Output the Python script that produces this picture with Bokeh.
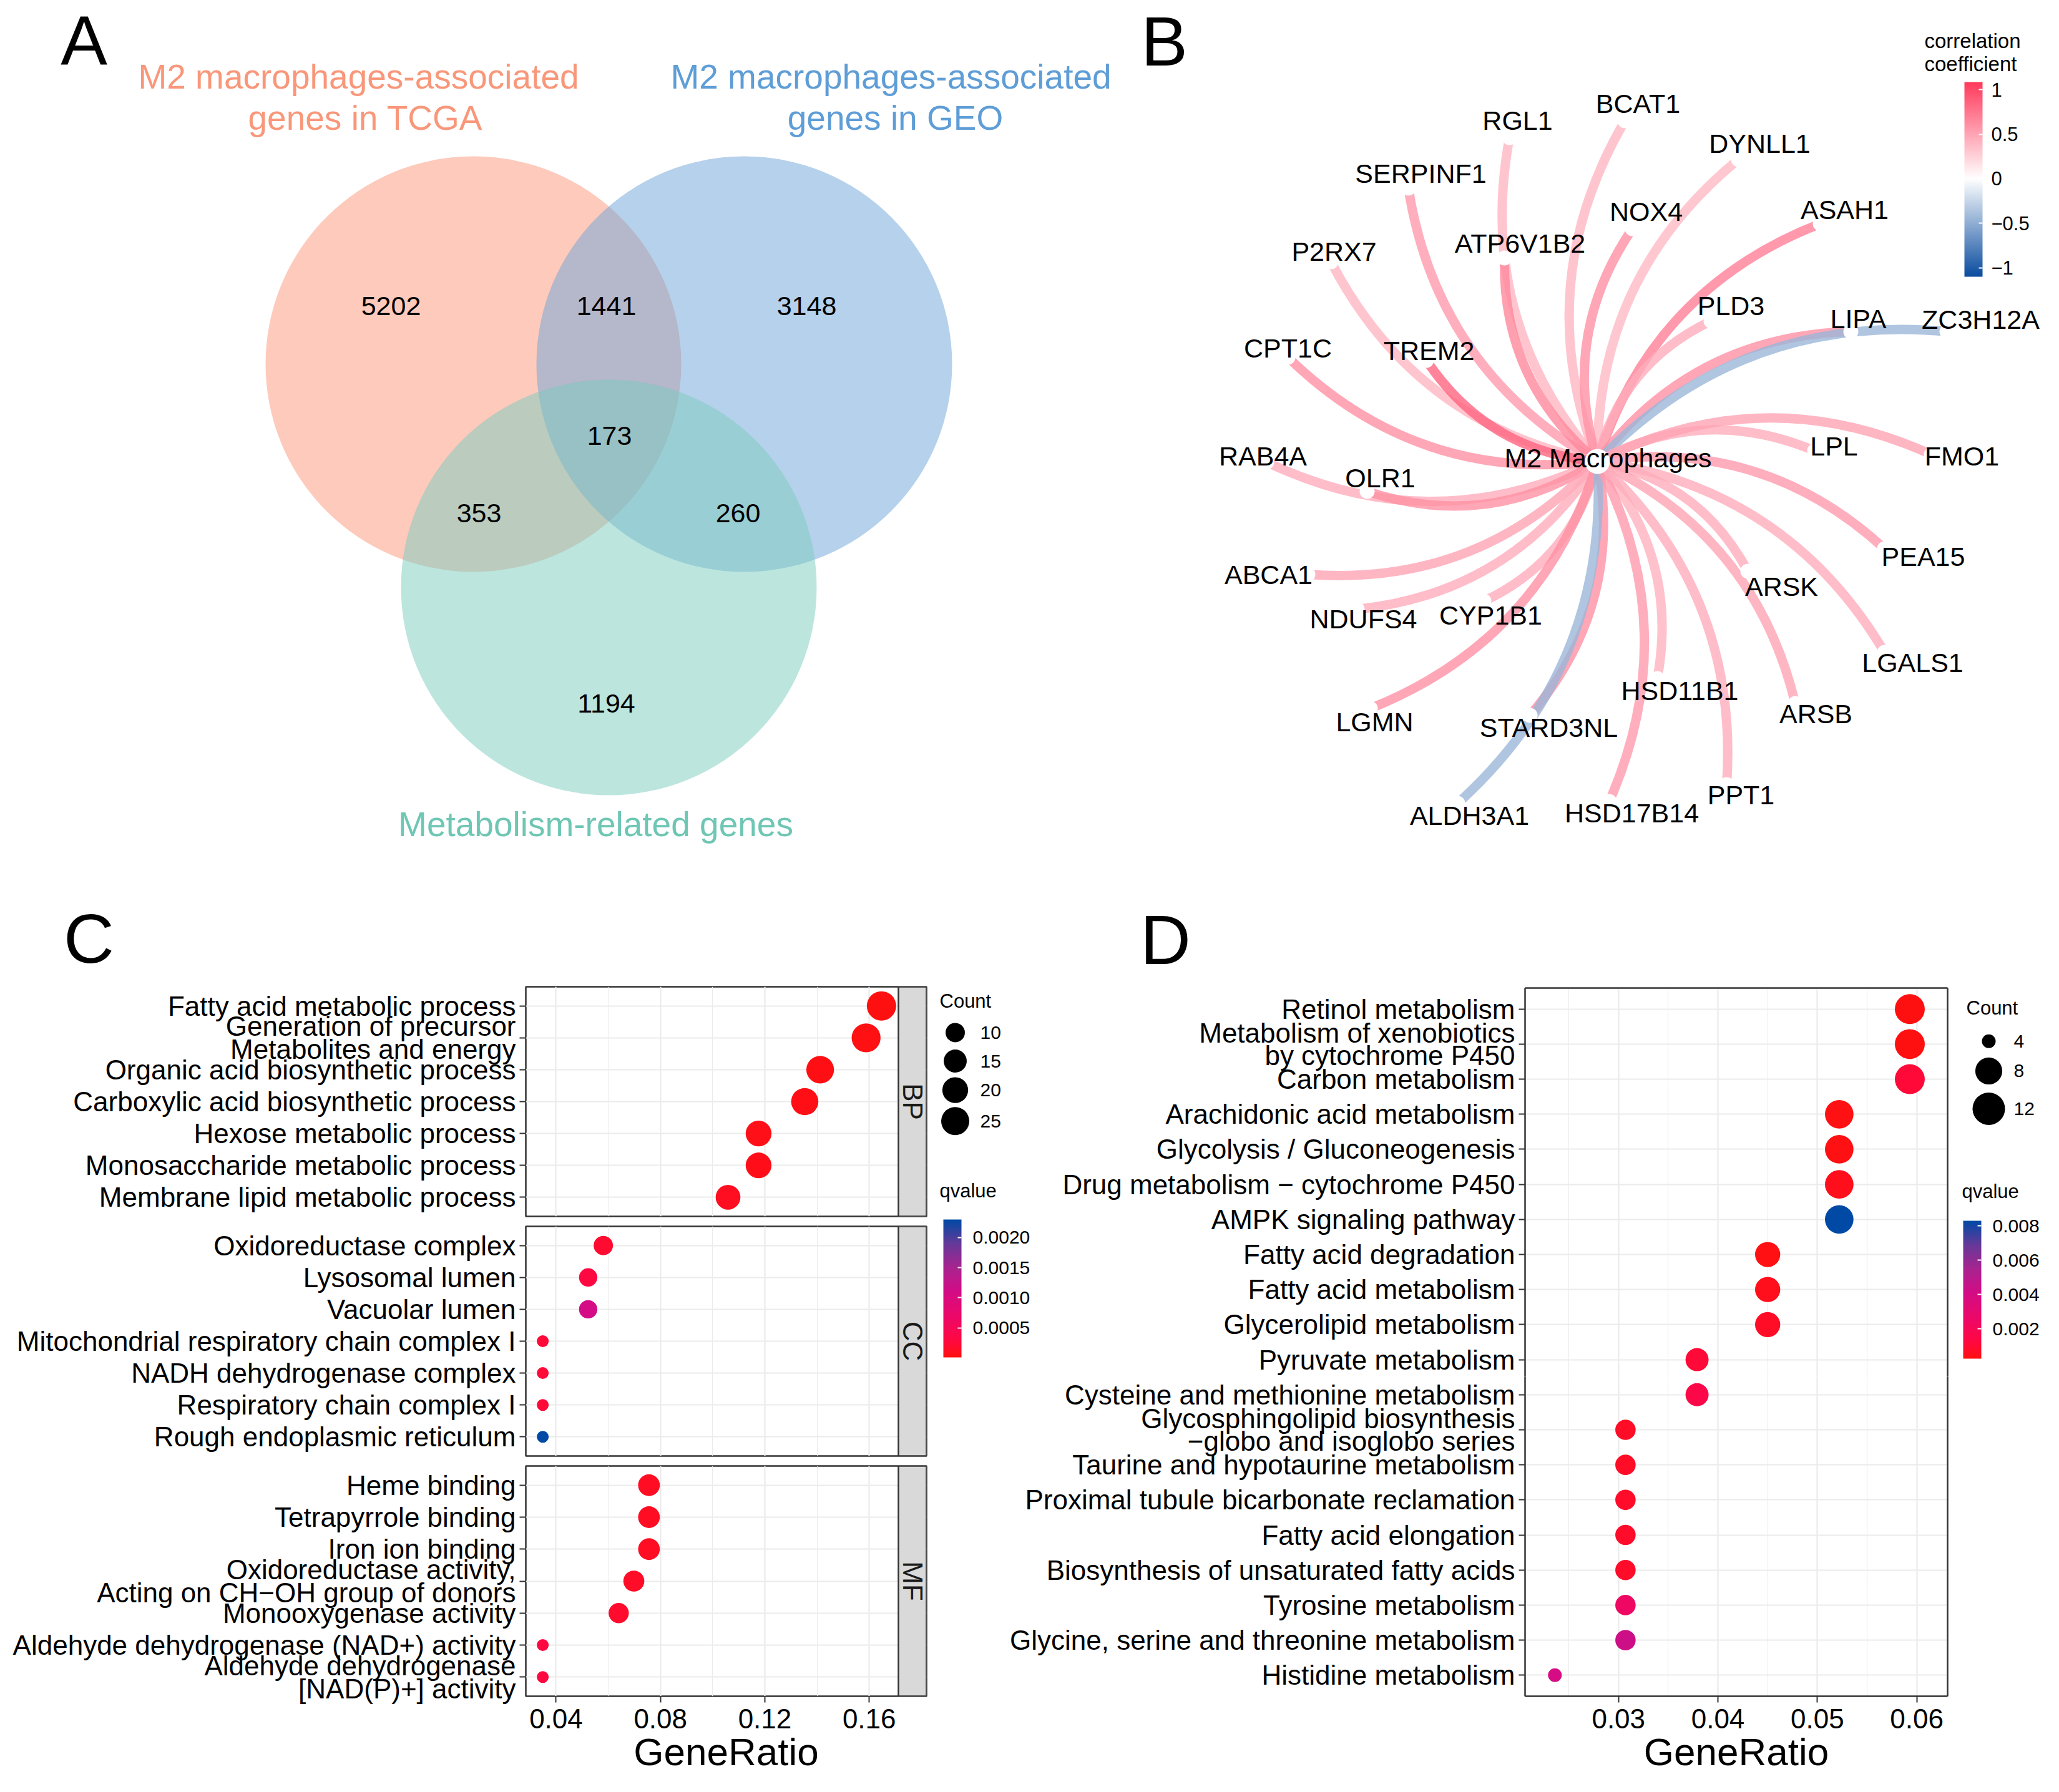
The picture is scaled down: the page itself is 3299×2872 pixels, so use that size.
import math
from bokeh.plotting import figure
from bokeh.layouts import row, column
from bokeh.models import (Range1d, ColumnDataSource, LinearColorMapper, ColorBar,
                          FixedTicker, LinearAxis, PrintfTickFormatter)
from bokeh.transform import transform
from bokeh.core.properties import value
from bokeh.embed import file_html
from bokeh.resources import INLINE

FONT = "Liberation Sans"
BORDER = "#333333"
GRID = "#EBEBEB"

# ---------------- Panel A : Venn data ----------------
venn_set_lines = [["M2 macrophages-associated", "genes in TCGA"],
                  ["M2 macrophages-associated", "genes in GEO"],
                  ["Metabolism-related genes"]]
venn_region_names = ["TCGA only", "TCGA&GEO", "GEO only", "TCGA&GEO&Met",
                     "TCGA&Met", "GEO&Met", "Met only"]
venn_region_counts = [5202, 1441, 3148, 173, 353, 260, 1194]

# ---------------- Panel B : network data ----------------
hub_name = "M2 Macrophages"
genes = ["RGL1", "BCAT1", "DYNLL1", "SERPINF1", "NOX4", "ASAH1", "ATP6V1B2", "P2RX7",
         "PLD3", "LIPA", "ZC3H12A", "CPT1C", "TREM2", "RAB4A", "OLR1", "LPL", "FMO1",
         "PEA15", "ARSK", "ABCA1", "NDUFS4", "CYP1B1", "LGALS1", "HSD11B1", "ARSB",
         "LGMN", "STARD3NL", "ALDH3A1", "HSD17B14", "PPT1"]
corr = [0.40, 0.40, 0.38, 0.55, 0.60, 0.70, 0.65, 0.40,
        0.45, 0.60, -0.45, 0.60, 0.85, 0.45, 0.60, 0.45, 0.50,
        0.55, 0.45, 0.50, 0.45, 0.45, 0.45, 0.42, 0.50,
        0.60, 0.60, -0.45, 0.55, 0.45]

# ---------------- Panel C : GO enrichment ----------------
bp_terms = ["Fatty acid metabolic process", "Generation of precursor\nMetabolites and energy",
            "Organic acid biosynthetic process", "Carboxylic acid biosynthetic process",
            "Hexose metabolic process", "Monosaccharide metabolic process",
            "Membrane lipid metabolic process"]
bp_ratio = [0.1647, 0.1588, 0.1412, 0.1353, 0.1176, 0.1176, 0.1059]
bp_count = [28, 27, 24, 23, 20, 20, 18]
bp_q = [0.00001, 0.00002, 0.00003, 0.00004, 0.00006, 0.00007, 0.00010]

cc_terms = ["Oxidoreductase complex", "Lysosomal lumen", "Vacuolar lumen",
            "Mitochondrial respiratory chain complex I", "NADH dehydrogenase complex",
            "Respiratory chain complex I", "Rough endoplasmic reticulum"]
cc_ratio = [0.0581, 0.0523, 0.0523, 0.0349, 0.0349, 0.0349, 0.0349]
cc_count = [10, 9, 9, 6, 6, 6, 6]
cc_q = [0.00020, 0.00030, 0.00110, 0.00025, 0.00025, 0.00025, 0.00230]

mf_terms = ["Heme binding", "Tetrapyrrole binding", "Iron ion binding",
            "Oxidoreductase activity,\nActing on CH\u2212OH group of donors",
            "Monooxygenase activity", "Aldehyde dehydrogenase (NAD+) activity",
            "Aldehyde dehydrogenase\n[NAD(P)+] activity"]
mf_ratio = [0.0756, 0.0756, 0.0756, 0.0698, 0.0640, 0.0349, 0.0349]
mf_count = [13, 13, 13, 12, 11, 6, 6]
mf_q = [0.00012, 0.00012, 0.00012, 0.00015, 0.00018, 0.00030, 0.00030]

go_facets = ["BP", "CC", "MF"]
go_ticks = [0.04, 0.08, 0.12, 0.16]
go_minor = [0.06, 0.10, 0.14]
go_count_breaks = [10, 15, 20, 25]
go_q_ticks = [0.0005, 0.0010, 0.0015, 0.0020]

# ---------------- Panel D : KEGG enrichment ----------------
kegg_terms = ["Retinol metabolism", "Metabolism of xenobiotics\nby cytochrome P450",
              "Carbon metabolism", "Arachidonic acid metabolism",
              "Glycolysis / Gluconeogenesis", "Drug metabolism \u2212 cytochrome P450",
              "AMPK signaling pathway", "Fatty acid degradation", "Fatty acid metabolism",
              "Glycerolipid metabolism", "Pyruvate metabolism",
              "Cysteine and methionine metabolism",
              "Glycosphingolipid biosynthesis\n\u2212globo and isoglobo series",
              "Taurine and hypotaurine metabolism", "Proximal tubule bicarbonate reclamation",
              "Fatty acid elongation", "Biosynthesis of unsaturated fatty acids",
              "Tyrosine metabolism", "Glycine, serine and threonine metabolism",
              "Histidine metabolism"]
kegg_ratio = [0.0593, 0.0593, 0.0593, 0.0522, 0.0522, 0.0522, 0.0522, 0.0450, 0.0450, 0.0450,
              0.0379, 0.0379, 0.0307, 0.0307, 0.0307, 0.0307, 0.0307, 0.0307, 0.0307, 0.0236]
kegg_count = [10, 10, 10, 9, 9, 9, 9, 7, 7, 7, 6, 6, 5, 5, 5, 5, 5, 5, 5, 4]
kegg_q = [0.00026, 0.00026, 0.0011, 0.0003, 0.0003, 0.0005, 0.0083, 0.0003, 0.0005, 0.0007,
          0.0011, 0.0015, 0.0007, 0.0007, 0.0008, 0.0008, 0.0008, 0.0024, 0.0043, 0.0040]
kegg_ticks = [0.03, 0.04, 0.05, 0.06]
kegg_minor = [0.025, 0.035, 0.045, 0.055]
kegg_count_breaks = [4, 8, 12]
kegg_q_ticks = [0.002, 0.004, 0.006, 0.008]

corr_ticks = [-1, -0.5, 0, 0.5, 1]
panel_letters = ["A", "B", "C", "D"]

# ================= layout constants (picture pixels) =================
W_TOTAL, H_TOTAL = 3283, 2856
TOP_H = 1578
SPLIT_X = 1800

venn_cx = [758, 1192, 975]
venn_cy = [583, 583, 941]
venn_r = 333
venn_fill = ["#FB9579", "#6DA3D7", "#79CBBD"]
venn_text_col = ["#F8977A", "#5E9DD6", "#6EC6B4"]
venn_region_x = [626, 971, 1292, 976, 767, 1182, 971]
venn_region_y = [490, 490, 490, 698, 822, 822, 1127]
venn_label_x = [[574, 585], [1427, 1434], [954]]
venn_label_y = [[122, 188], [122, 188], [1320]]

letter_x = [134, 1865, 142, 1867]
letter_y = [64, 66, 1504, 1506]

hub_x, hub_y = 2559, 739
node_x = [2418, 2603, 2785, 2256, 2615, 2916, 2410, 2132, 2741, 2965, 3119, 2063, 2285, 2029,
          2190, 2907, 3094, 3019, 2800, 2095, 2174, 2377, 3019, 2655, 2876, 2195, 2451, 2335,
          2578, 2766]
node_y = [220, 193, 255, 301, 366, 358, 413, 419, 514, 531, 531, 572, 577, 740, 787, 722, 728,
          879, 915, 920, 976, 963, 1045, 1087, 1127, 1135, 1146, 1287, 1284, 1257]
label_x = [2431, 2624, 2819, 2276, 2637, 2955, 2435, 2137, 2773, 2977, 3173, 2063, 2289, 2023,
           2211, 2938, 3143, 3081, 2854, 2032, 2184, 2388, 3064, 2691, 2909, 2202, 2481, 2354,
           2614, 2789]
label_y = [192, 165, 229, 277, 338, 335, 389, 402, 489, 510, 511, 557, 561, 730, 765, 714, 730,
           891, 939, 920, 991, 985, 1061, 1106, 1143, 1156, 1165, 1306, 1302, 1273]


def hex2rgb(h):
    h = h.lstrip("#")
    return tuple(int(h[i:i + 2], 16) for i in (0, 2, 4))


def rgb2hex(c):
    return "#%02x%02x%02x" % tuple(int(round(v)) for v in c)


def gradient(stops, n=256):
    pal = []
    for i in range(n):
        t = i / (n - 1)
        for j in range(len(stops) - 1):
            p0, c0 = stops[j]
            p1, c1 = stops[j + 1]
            if t <= p1 or j == len(stops) - 2:
                f = (t - p0) / (p1 - p0)
                f = min(max(f, 0.0), 1.0)
                a, b = hex2rgb(c0), hex2rgb(c1)
                pal.append(rgb2hex([a[k] + (b[k] - a[k]) * f for k in range(3)]))
                break
    return pal


q_palette = gradient([(0.0, "#FF1010"), (0.12, "#FF0840"), (0.28, "#EE0866"),
                      (0.48, "#D30C86"), (0.65, "#A8248F"), (0.82, "#683898"),
                      (1.0, "#004AA5")])
corr_low, corr_high = -1.1, 1.085
zero_pos = -corr_low / (corr_high - corr_low)
corr_palette = gradient([(0.0, "#0A4C9F"), (zero_pos, "#FFFFFF"), (1.0, "#FF3A5C")])


def txt(p, xs, ys, texts, size, color="black", align="center", baseline="middle", angle=0.0):
    p.text(x=xs, y=ys, text=texts, text_font=value(FONT), text_font_size=size,
           text_color=color, text_align=align, text_baseline=baseline, angle=angle)


def canvas(x0, x1, y0, y1):
    p = figure(width=x1 - x0, height=y1 - y0, x_range=Range1d(x0, x1), y_range=Range1d(y1, y0),
               x_axis_type=None, y_axis_type=None, toolbar_location=None, output_backend="svg",
               min_border=0)
    p.outline_line_color = None
    p.background_fill_color = "white"
    p.border_fill_color = "white"
    return p


def size_scale(c, cmin, cmax, dmin, dmax):
    f = max((c - cmin) / (cmax - cmin), 0.0)
    return dmin + (dmax - dmin) * math.sqrt(f)


def c_size(c):
    return size_scale(c, 6, 28, 19, 47)


def d_size(c):
    return size_scale(c, 4, 12, 22, 52)


def q_colorbar(p, mapper, ticks, fmt, loc, height):
    cb = ColorBar(color_mapper=mapper, location=loc, width=29, height=height, padding=0,
                  margin=0, ticker=FixedTicker(ticks=ticks),
                  formatter=PrintfTickFormatter(format=fmt),
                  major_label_text_font=FONT, major_label_text_font_size="30px",
                  major_label_text_color="black", label_standoff=18,
                  major_tick_line_color="white", major_tick_line_width=2,
                  major_tick_in=6, major_tick_out=0, minor_tick_line_color=None,
                  bar_line_color=None, border_line_color=None, background_fill_alpha=0)
    p.add_layout(cb)


def style_label_axis(ax, ticks, labels):
    ax.ticker = FixedTicker(ticks=ticks)
    ax.major_label_overrides = {i: t for i, t in enumerate(labels)}
    ax.major_label_text_font = FONT
    ax.major_label_text_font_size = "44px"
    ax.major_label_text_color = "black"
    ax.major_label_text_line_height = 0.75
    ax.major_label_standoff = 6
    ax.major_tick_out = 10
    ax.major_tick_in = 0
    ax.major_tick_line_color = BORDER
    ax.major_tick_line_width = 2
    ax.minor_tick_line_color = None
    ax.minor_tick_out = 0
    ax.minor_tick_in = 0


def style_x_axis(ax, ticker):
    ax.ticker = ticker
    ax.major_label_text_font = FONT
    ax.major_label_text_font_size = "44px"
    ax.major_label_text_color = "black"
    ax.major_label_standoff = 10
    ax.major_tick_out = 10
    ax.major_tick_in = 0
    ax.major_tick_line_color = BORDER
    ax.major_tick_line_width = 2
    ax.minor_tick_line_color = None
    ax.minor_tick_out = 0
    ax.minor_tick_in = 0
    ax.axis_label = "GeneRatio"
    ax.axis_label_text_font = FONT
    ax.axis_label_text_font_size = "62px"
    ax.axis_label_text_font_style = "normal"
    ax.axis_label_text_color = "black"
    ax.axis_label_standoff = 0


def line_only_axis(ax):
    ax.ticker = FixedTicker(ticks=[])
    ax.major_label_text_font_size = "0px"
    ax.major_label_standoff = 0
    ax.major_tick_out = 0
    ax.major_tick_in = 0
    ax.minor_tick_out = 0
    ax.minor_tick_in = 0
    ax.major_tick_line_color = None
    ax.minor_tick_line_color = None
    ax.axis_line_color = BORDER
    ax.axis_line_width = 2.5


def style_grids(p, xticker, nrows):
    p.xgrid.ticker = xticker
    p.xgrid.grid_line_color = GRID
    p.xgrid.grid_line_width = 2.2
    p.xgrid.minor_grid_line_color = GRID
    p.xgrid.minor_grid_line_width = 1.1
    p.ygrid.ticker = FixedTicker(ticks=list(range(nrows)))
    p.ygrid.grid_line_color = GRID
    p.ygrid.grid_line_width = 2.2
    p.ygrid.minor_grid_line_color = None


# ================= Panel A =================
pA = canvas(0, SPLIT_X, 0, TOP_H)
pA.circle(x=venn_cx, y=venn_cy, radius=venn_r, fill_color=venn_fill, fill_alpha=0.5,
          line_color=None)
txt(pA, venn_region_x, venn_region_y, [str(c) for c in venn_region_counts], "43px")
for lines, lx, ly, col in zip(venn_set_lines, venn_label_x, venn_label_y, venn_text_col):
    txt(pA, lx, ly, lines, "55px", color=col)
txt(pA, [letter_x[0], letter_x[2]], [letter_y[0], letter_y[2]],
    [panel_letters[0], panel_letters[2]], "112px")

# ================= Panel B =================
pB = canvas(SPLIT_X, W_TOTAL, 0, TOP_H)
bend = 0.24
ex0, ey0, ecx, ecy = [], [], [], []
for nx, ny in zip(node_x, node_y):
    dx, dy = nx - hub_x, ny - hub_y
    ex0.append(hub_x)
    ey0.append(hub_y)
    ecx.append((hub_x + nx) / 2 + bend * dy)
    ecy.append((hub_y + ny) / 2 - bend * dx)
edge_src = ColumnDataSource(dict(x0=ex0, y0=ey0, x1=node_x, y1=node_y, cx=ecx, cy=ecy,
                                 corr=corr, gene=genes))
edge_mapper = LinearColorMapper(palette=corr_palette, low=corr_low, high=corr_high)
pB.quadratic(x0="x0", y0="y0", x1="x1", y1="y1", cx="cx", cy="cy", source=edge_src,
             line_color=transform("corr", edge_mapper), line_width=15, line_alpha=0.8)
pB.scatter(x=node_x, y=node_y, size=24, marker="circle", fill_color="white", line_color=None)
pB.scatter(x=[hub_x], y=[hub_y], size=40, marker="circle", fill_color="white", line_color=None)
txt(pB, label_x, label_y, genes, "43px")
txt(pB, [2576], [733], [hub_name], "43px")
cbB = ColorBar(color_mapper=edge_mapper, location=(3147 - SPLIT_X, TOP_H - 443), width=29,
               height=312, padding=0, margin=0, ticker=FixedTicker(ticks=corr_ticks),
               major_label_overrides={-1: "\u22121", -0.5: "\u22120.5", 0: "0", 0.5: "0.5", 1: "1"},
               major_label_text_font=FONT, major_label_text_font_size="31px",
               major_label_text_color="black", label_standoff=14,
               major_tick_line_color="white", major_tick_line_width=2, major_tick_in=6,
               major_tick_out=0, minor_tick_line_color=None, bar_line_color=None,
               border_line_color=None, background_fill_alpha=0)
pB.add_layout(cbB)
txt(pB, [3083, 3083], [65, 102], ["correlation", "coefficient"], "33px", align="left")
txt(pB, [letter_x[1], letter_x[3]], [letter_y[1], letter_y[3]],
    [panel_letters[1], panel_letters[3]], "112px")

# ================= Panel C =================
all_go_ratio = bp_ratio + cc_ratio + mf_ratio
all_go_q = bp_q + cc_q + mf_q
g_lo, g_hi = min(all_go_ratio), max(all_go_ratio)
g_pad = 0.05 * (g_hi - g_lo)
c_panel_lo, c_panel_hi = g_lo - g_pad, g_hi + g_pad
c_panel_px, c_strip_px = 597, 45
c_strip_w = c_strip_px * (c_panel_hi - c_panel_lo) / c_panel_px
c_xrange = Range1d(c_panel_lo, c_panel_hi + c_strip_w)
go_ticker = FixedTicker(ticks=go_ticks, minor_ticks=go_minor)
go_mapper = LinearColorMapper(palette=q_palette, low=min(all_go_q), high=max(all_go_q))
C_LEFT = 842
C_WIDTH = 1486


def go_facet(terms, ratio, count, q, strip, height, top, bottom, show_x):
    n = len(terms)
    p = figure(width=C_WIDTH, height=height, x_range=c_xrange,
               y_range=Range1d(n - 1 + 0.6, -0.6),
               toolbar_location=None, output_backend="svg",
               x_axis_location=("below" if show_x else None),
               min_border_left=C_LEFT, min_border_right=2, min_border_top=top,
               min_border_bottom=bottom)
    p.background_fill_color = "white"
    p.border_fill_color = "white"
    p.outline_line_color = BORDER
    p.outline_line_width = 2.5
    style_grids(p, go_ticker, n)
    ax = p.left[0]
    style_label_axis(ax, list(range(n)), terms)
    ax.axis_line_color = None
    if show_x:
        style_x_axis(p.below[0], go_ticker)
        p.below[0].axis_line_color = None
    src = ColumnDataSource(dict(x=ratio, y=list(range(n)), size=[c_size(c) for c in count],
                                q=q, term=terms))
    p.scatter(x="x", y="y", size="size", source=src, marker="circle",
              fill_color=transform("q", go_mapper), line_color=None)
    p.quad(left=[c_panel_hi], right=[c_panel_hi + c_strip_w], top=[-0.6], bottom=[n - 1 + 0.6],
           fill_color="#D9D9D9", line_color=BORDER, line_width=2.5)
    txt(p, [c_panel_hi + c_strip_w / 2], [(n - 1) / 2], [strip], "44px", color="#1A1A1A",
        angle=-math.pi / 2)
    return p


# frames: BP 1581-1949, CC 1965-2333, MF 2349-2718
pBP = go_facet(bp_terms, bp_ratio, bp_count, bp_q, go_facets[0], 379, 3, 8, False)
pCC = go_facet(cc_terms, cc_ratio, cc_count, cc_q, go_facets[1], 384, 8, 8, False)
pMF = go_facet(mf_terms, mf_ratio, mf_count, mf_q, go_facets[2], 515, 8, 138, True)

# C legend
LEG_BOTTOM = 2205
pCl = canvas(1486, 1690, TOP_H, LEG_BOTTOM)
txt(pCl, [1505], [1599], ["Count"], "31px", align="left")
cl_y = [1650, 1696, 1743, 1793]
pCl.scatter(x=[1530] * len(go_count_breaks), y=cl_y, size=[c_size(b) for b in go_count_breaks],
            marker="circle", fill_color="black", line_color=None)
txt(pCl, [1570] * len(go_count_breaks), cl_y, [str(b) for b in go_count_breaks], "30px",
    align="left")
txt(pCl, [1505], [1906], ["qvalue"], "31px", align="left")
q_colorbar(pCl, go_mapper, go_q_ticks, "%.4f", (1511 - 1486, LEG_BOTTOM - 2175), 221)

# ================= Panel D =================
d_xrange = Range1d(0.0206, 0.0631)
kegg_ticker = FixedTicker(ticks=kegg_ticks, minor_ticks=kegg_minor)
kegg_mapper = LinearColorMapper(palette=q_palette, low=min(kegg_q), high=max(kegg_q))
n_k = len(kegg_terms)
d_row_px = 1135 / (n_k - 1 + 1.2)
d_top_px = LEG_BOTTOM - 1583
d_split = -0.6 + d_top_px / d_row_px
d_end = n_k - 1 + 0.6


def kegg_part(width, height, y_lo, y_hi, mbl, mbr, mbt, mbb, top_part):
    p = figure(width=width, height=height, x_range=d_xrange, y_range=Range1d(y_hi, y_lo),
               toolbar_location=None, output_backend="svg",
               x_axis_location=("above" if top_part else "below"),
               min_border_left=mbl, min_border_right=mbr, min_border_top=mbt,
               min_border_bottom=mbb)
    p.background_fill_color = "white"
    p.border_fill_color = "white"
    p.outline_line_color = None
    style_grids(p, kegg_ticker, n_k)
    idx = [i for i in range(n_k) if y_lo < i < y_hi]
    ax = p.left[0]
    style_label_axis(ax, idx, kegg_terms)
    ax.axis_line_color = BORDER
    ax.axis_line_width = 2.5
    if top_part:
        line_only_axis(p.above[0])
    else:
        style_x_axis(p.below[0], kegg_ticker)
        p.below[0].axis_line_color = BORDER
        p.below[0].axis_line_width = 2.5
    right_ax = LinearAxis()
    line_only_axis(right_ax)
    p.add_layout(right_ax, "right")
    src = ColumnDataSource(dict(x=[kegg_ratio[i] for i in idx], y=idx,
                                size=[d_size(kegg_count[i]) for i in idx],
                                q=[kegg_q[i] for i in idx]))
    p.scatter(x="x", y="y", size="size", source=src, marker="circle",
              fill_color=transform("q", kegg_mapper), line_color=None)
    return p


D_FRAME_L, D_FRAME_R = 2443, 3120
pDt = kegg_part(3130 - 1690, LEG_BOTTOM - TOP_H, -0.6, d_split, D_FRAME_L - 1690,
                3130 - D_FRAME_R, 1583 - TOP_H, 0, True)
pDb = kegg_part(W_TOTAL - 1486, H_TOTAL - LEG_BOTTOM, d_split, d_end, D_FRAME_L - 1486,
                W_TOTAL - D_FRAME_R, 0, H_TOTAL - 2718, False)

# D legend
pDl = canvas(3130, W_TOTAL, TOP_H, LEG_BOTTOM)
txt(pDl, [3150], [1610], ["Count"], "31px", align="left")
dl_y = [1664, 1712, 1773]
pDl.scatter(x=[3186] * len(kegg_count_breaks), y=dl_y,
            size=[d_size(b) for b in kegg_count_breaks], marker="circle",
            fill_color="black", line_color=None)
txt(pDl, [3226] * len(kegg_count_breaks), dl_y, [str(b) for b in kegg_count_breaks], "30px",
    align="left")
txt(pDl, [3143], [1907], ["qvalue"], "31px", align="left")
q_colorbar(pDl, kegg_mapper, kegg_q_ticks, "%.3f", (3145 - 3130, LEG_BOTTOM - 2177), 221)

# ================= assemble =================
layout = column(
    row(pA, pB, spacing=0),
    row(column(pBP, pCC, pMF, spacing=0),
        column(row(pCl, pDt, pDl, spacing=0), pDb, spacing=0),
        spacing=0),
    spacing=0)

open("out.html", "w").write(file_html(layout, INLINE))
